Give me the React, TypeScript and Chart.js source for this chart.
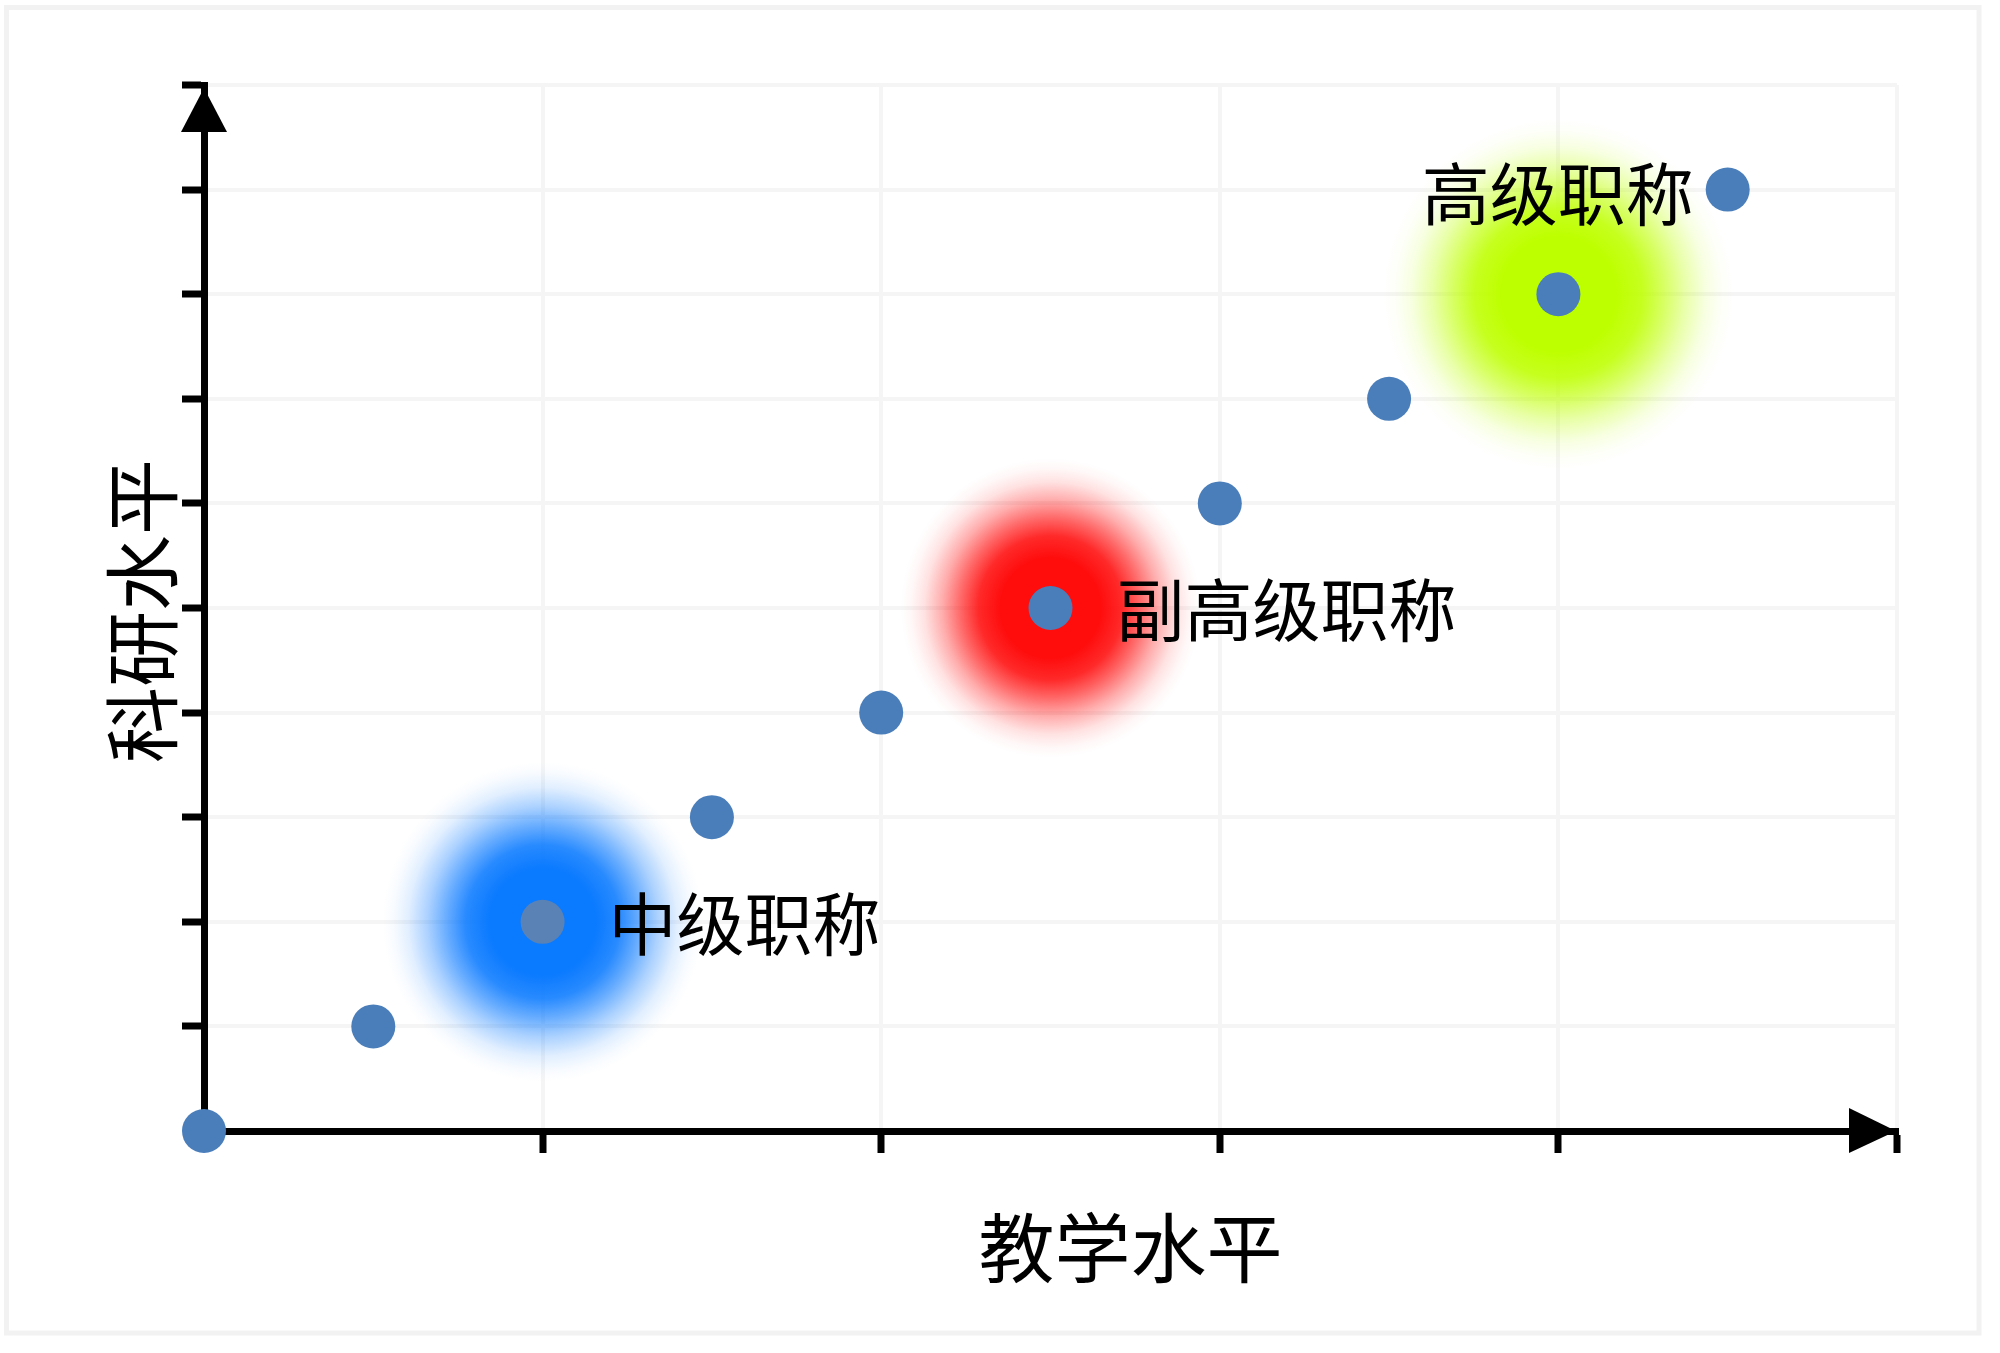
import React, { useEffect, useRef } from "react";
import { Chart, registerables } from "chart.js";

Chart.register(...registerables);

// ---- data ----
const teachingLevels = [0, 0.5, 1, 1.5, 2, 2.5, 3, 3.5, 4, 4.5];
const researchLevels = [0, 1, 2, 3, 4, 5, 6, 7, 8, 9];
const pointColors = ["#4a7ebb", "#4a7ebb", "#5a82b4", "#4a7ebb", "#4a7ebb", "#4a7ebb", "#4a7ebb", "#4a7ebb", "#4a7ebb", "#4a7ebb"];

const tierNames = ["中级职称", "副高级职称", "高级职称"];
const tierGlowX = [1, 2.5, 4];
const tierGlowY = [2, 5, 8];
const tierGlowColors = ["10,122,255", "255,12,12", "190,255,0"];
const tierGlowRadius = [160, 150, 175];
const tierLabelX = [1, 2.5, 4.5];
const tierLabelY = [2, 5, 9];
const tierLabelSide = ["right", "right", "left"];

const xTitle = "教学水平";
const yTitle = "科研水平";
const xMax = 5;
const yMax = 10;

const FONT = '"Noto Sans CJK SC", "Noto Sans", sans-serif';

const decorPlugin = {
  id: "decor",
  beforeDraw(chart: any) {
    const ctx = chart.ctx;
    ctx.save();
    ctx.fillStyle = "#ffffff";
    ctx.fillRect(0, 0, chart.width, chart.height);
    ctx.strokeStyle = "#f2f2f2";
    ctx.lineWidth = 5;
    ctx.strokeRect(6.5, 7.5, 1972.5, 1325.5);
    ctx.restore();
  },
  beforeDatasetsDraw(chart: any) {
    const ctx = chart.ctx;
    const xs = chart.scales.x;
    const ys = chart.scales.y;
    ctx.save();
    for (let i = 0; i < tierGlowX.length; i++) {
      const cx = xs.getPixelForValue(tierGlowX[i]);
      const cy = ys.getPixelForValue(tierGlowY[i]);
      const R = tierGlowRadius[i];
      const c = tierGlowColors[i];
      const g = ctx.createRadialGradient(cx, cy, 0, cx, cy, R);
      g.addColorStop(0, `rgba(${c},1)`);
      g.addColorStop(0.33, `rgba(${c},1)`);
      g.addColorStop(0.48, `rgba(${c},0.88)`);
      g.addColorStop(0.6, `rgba(${c},0.62)`);
      g.addColorStop(0.72, `rgba(${c},0.34)`);
      g.addColorStop(0.84, `rgba(${c},0.12)`);
      g.addColorStop(0.93, `rgba(${c},0.03)`);
      g.addColorStop(1, `rgba(${c},0)`);
      ctx.fillStyle = g;
      ctx.beginPath();
      ctx.arc(cx, cy, R, 0, Math.PI * 2);
      ctx.fill();
    }
    ctx.restore();
  },
  afterDraw(chart: any) {
    const ctx = chart.ctx;
    const xs = chart.scales.x;
    const ys = chart.scales.y;
    const area = chart.chartArea;
    ctx.save();
    // arrows
    ctx.fillStyle = "#000";
    const ax = area.left;
    const top = area.top;
    ctx.beginPath();
    ctx.moveTo(ax, top + 3);
    ctx.lineTo(ax - 23, top + 47);
    ctx.lineTo(ax + 23, top + 47);
    ctx.closePath();
    ctx.fill();
    const ay = area.bottom;
    const right = area.right;
    ctx.beginPath();
    ctx.moveTo(right - 1, ay);
    ctx.lineTo(right - 48, ay - 23);
    ctx.lineTo(right - 48, ay + 22);
    ctx.closePath();
    ctx.fill();

    // tier labels
    ctx.fillStyle = "#000";
    ctx.font = `68px ${FONT}`;
    ctx.textBaseline = "middle";
    for (let i = 0; i < tierNames.length; i++) {
      const px = xs.getPixelForValue(tierLabelX[i]);
      const py = ys.getPixelForValue(tierLabelY[i]);
      if (tierLabelSide[i] === "right") {
        ctx.textAlign = "left";
        ctx.fillText(tierNames[i], px + 66, py + 2);
      } else {
        ctx.textAlign = "right";
        ctx.fillText(tierNames[i], px - 34, py + 5);
      }
    }

    // axis titles
    ctx.font = `76px ${FONT}`;
    ctx.textAlign = "center";
    ctx.textBaseline = "middle";
    ctx.fillText(xTitle, (area.left + area.right) / 2 + 80, area.bottom + 117);
    ctx.translate(area.left - 62, (area.top + area.bottom) / 2 + 3);
    ctx.rotate(-Math.PI / 2);
    ctx.fillText(yTitle, 0, 0);
    ctx.restore();
  },
};

export default function App() {
  const ref = useRef<HTMLCanvasElement | null>(null);
  useEffect(() => {
    if (!ref.current) return;
    const gridColor = (c: any) => (c.tick && c.tick.value === 0 ? "rgba(0,0,0,0)" : "#f5f5f5");
    const tickColor = (c: any) => (c.tick && c.tick.value === 0 ? "rgba(0,0,0,0)" : "#000000");
    const chart = new Chart(ref.current, {
      type: "scatter",
      data: {
        datasets: [
          {
            data: teachingLevels.map((x, i) => ({ x, y: researchLevels[i] })),
            backgroundColor: pointColors,
            borderWidth: 0,
            pointRadius: 22,
            pointHoverRadius: 22,
            clip: false as any,
          },
        ],
      },
      options: {
        animation: false,
        responsive: false,
        events: [],
        layout: { padding: { left: 164, right: 103, top: 85, bottom: 182 } },
        plugins: { legend: { display: false }, tooltip: { enabled: false } },
        scales: {
          x: {
            type: "linear",
            min: 0,
            max: xMax,
            ticks: { stepSize: 1, display: false },
            grid: { color: gridColor, lineWidth: 4, tickLength: 22, tickWidth: 7, tickColor, drawTicks: true } as any,
            border: { display: true, color: "#000", width: 7 },
            afterFit: (s: any) => {
              s.height = 40;
            },
          },
          y: {
            type: "linear",
            min: 0,
            max: yMax,
            ticks: { stepSize: 1, display: false },
            grid: { color: gridColor, lineWidth: 4, tickLength: 22, tickWidth: 7, tickColor, drawTicks: true } as any,
            border: { display: true, color: "#000", width: 7 },
            afterFit: (s: any) => {
              s.width = 40;
            },
          },
        },
      },
      plugins: [decorPlugin],
    });
    return () => chart.destroy();
  }, []);
  return (
    <div style={{ position: "fixed", left: 0, top: 0, width: 2000, height: 1353, background: "#fff" }}>
      <canvas ref={ref} width={2000} height={1353} style={{ display: "block" }} />
    </div>
  );
}
